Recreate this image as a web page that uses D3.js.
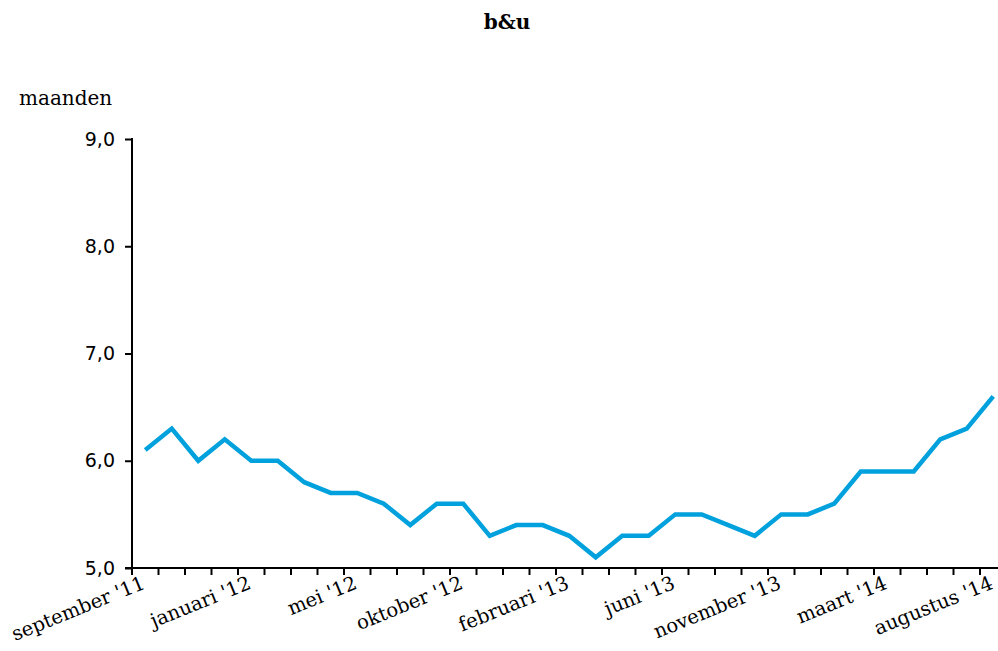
<!DOCTYPE html>
<html>
<head>
<meta charset="utf-8">
<script src="https://cdn.jsdelivr.net/npm/d3@7"></script>
<style>
  body { margin: 0; background: #fff; }
  .serif { font-family: "DejaVu Serif", serif; }
  .sans { font-family: "DejaVu Sans", sans-serif; }
</style>
</head>
<body>
<svg id="chart" width="998" height="651"></svg>
<script>
// maanden (33 observaties)
var months = [
    "september '11", "oktober '11", "november '11", "december '11",
    "januari '12", "februari '12", "maart '12", "april '12",
    "mei '12", "juni '12", "augustus '12", "september '12",
    "oktober '12", "november '12", "december '12", "januari '13",
    "februari '13", "maart '13", "april '13", "mei '13",
    "juni '13", "augustus '13", "september '13", "oktober '13",
    "november '13", "december '13", "januari '14", "februari '14",
    "maart '14", "april '14", "mei '14", "juni '14",
    "augustus '14"
];
var values = [
    6.1, 6.3, 6.0, 6.2, 6.0, 6.0, 5.8, 5.7,
    5.7, 5.6, 5.4, 5.6, 5.6, 5.3, 5.4, 5.4,
    5.3, 5.1, 5.3, 5.3, 5.5, 5.5, 5.4, 5.3,
    5.5, 5.5, 5.6, 5.9, 5.9, 5.9, 6.2, 6.3,
    6.6
];
var yTicks = [5, 6, 7, 8, 9];
var labelEvery = 4;

(function () {
    var svg = d3.select("#chart");
    var left = 132, plotTop = 139, bottom = 568, step = 26.5;

    var x = d3.scaleBand()
        .domain(months)
        .range([left, left + step * months.length])
        .padding(0);

    var y = d3.scaleLinear()
        .domain([5, 9])
        .range([bottom, plotTop]);

    // titel
    svg.append("text")
        .attr("class", "serif")
        .attr("x", 507)
        .attr("y", 29)
        .attr("text-anchor", "middle")
        .style("font-size", "20px")
        .style("font-weight", "bold")
        .text("b&u");

    svg.append("text")
        .attr("class", "serif")
        .attr("x", 19)
        .attr("y", 105)
        .style("font-size", "20px")
        .text("maanden");

    // y-as
    var yAxis = d3.axisLeft(y)
        .tickValues(yTicks)
        .tickSize(7)
        .tickPadding(10)
        .tickFormat(function (d) { return d3.format(".1f")(d).replace(".", ","); });

    var gy = svg.append("g")
        .attr("transform", "translate(" + left + ",0)")
        .call(yAxis);
    gy.select(".domain").remove();
    gy.selectAll(".tick line").attr("stroke", "#000").attr("stroke-width", 2);
    gy.selectAll(".tick text")
        .attr("class", "sans")
        .style("font-size", "19px")
        .attr("fill", "#000");

    svg.append("line")
        .attr("x1", left).attr("x2", left)
        .attr("y1", plotTop - 1).attr("y2", bottom)
        .attr("stroke", "#000").attr("stroke-width", 2);

    // x-as
    svg.append("line")
        .attr("x1", left - 7).attr("x2", 998)
        .attr("y1", bottom).attr("y2", bottom)
        .attr("stroke", "#000").attr("stroke-width", 2);

    svg.append("g")
        .selectAll("line")
        .data(months)
        .enter()
        .append("line")
        .attr("x1", function (d) { return x(d); })
        .attr("x2", function (d) { return x(d); })
        .attr("y1", bottom)
        .attr("y2", bottom + 7)
        .attr("stroke", "#000")
        .attr("stroke-width", 2);

    svg.append("g")
        .selectAll("text")
        .data(months.filter(function (d, i) { return i % labelEvery === 0; }))
        .enter()
        .append("text")
        .attr("class", "serif")
        .attr("text-anchor", "end")
        .style("font-size", "19.5px")
        .attr("transform", function (d) {
            return "translate(" + (x(d) + x.bandwidth() / 2 + 1) + "," + (bottom + 20) + ") rotate(-22)";
        })
        .text(function (d) { return d; });

    // lijn
    var line = d3.line()
        .x(function (d, i) { return x(months[i]) + x.bandwidth() / 2; })
        .y(function (d) { return y(d); });

    svg.append("path")
        .datum(values)
        .attr("d", line)
        .attr("fill", "none")
        .attr("stroke", "#00a1dd")
        .attr("stroke-width", 4.5)
        .attr("stroke-linejoin", "miter");
})();
</script>
</body>
</html>
